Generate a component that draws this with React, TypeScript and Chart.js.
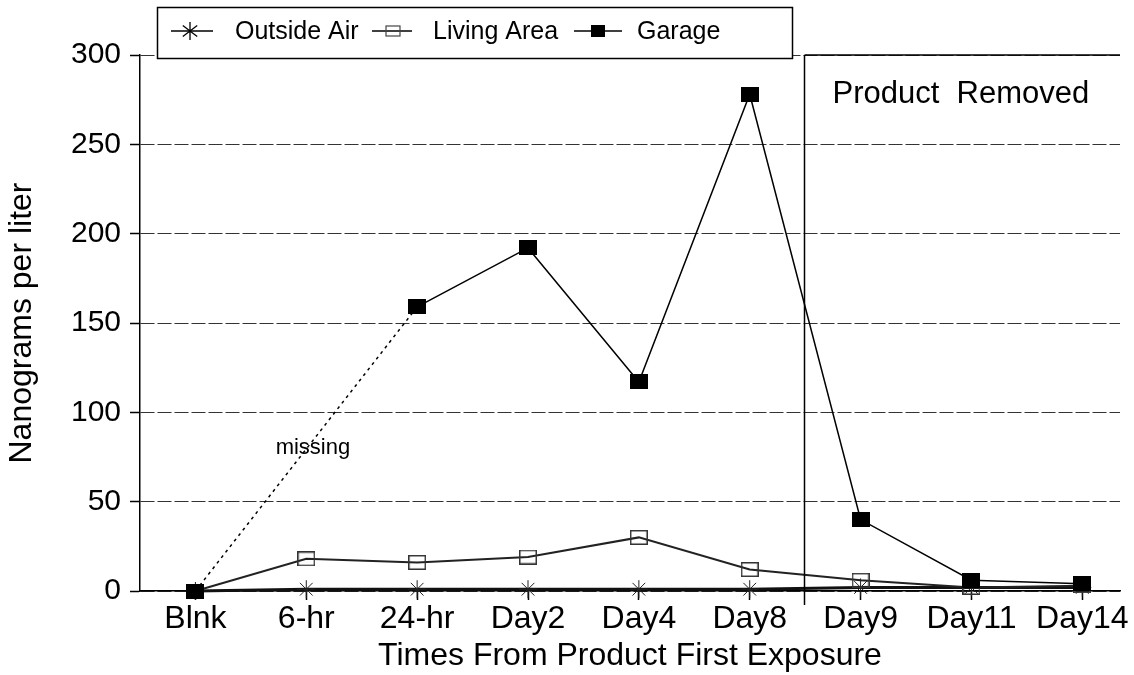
import React, { useEffect, useRef } from 'react';
import { Chart, registerables } from 'chart.js';

Chart.register(...registerables);

// ---- data ----
const categories = ['Blnk', '6-hr', '24-hr', 'Day2', 'Day4', 'Day8', 'Day9', 'Day11', 'Day14'];
const outsideAir = [0, 1, 1, 1, 1, 1, 2, 2, 2];
const livingArea = [0, 18, 16, 19, 30, 12, 6, 2, 3];
const garage = [0, null, 159, 192, 117, 278, 40, 6, 4];
const yTicks = [0, 50, 100, 150, 200, 250, 300];
const seriesLabels = ['Outside Air', 'Living Area', 'Garage'];
const productRemovedAfter = 5.49; // boundary between Day8 and Day9
const missingNoteAt = { x: 1.06, y: 80 };

const FONT = '"Liberation Sans", Arial, Helvetica, sans-serif';

function makeRect(w: number, h: number, fill: string | null, stroke: string, lw: number) {
  const c = document.createElement('canvas');
  c.width = w;
  c.height = h;
  const g = c.getContext('2d')!;
  if (fill) {
    g.fillStyle = fill;
    g.fillRect(0, 0, w, h);
  }
  g.strokeStyle = stroke;
  g.lineWidth = lw;
  g.strokeRect(lw / 2, lw / 2, w - lw, h - lw);
  return c;
}

export default function App() {
  const ref = useRef<HTMLCanvasElement>(null);

  useEffect(() => {
    document.body.style.margin = '0';
    const canvas = ref.current!;
    const garageImg = makeRect(18, 15, '#000', '#000', 1);
    const livingImg = makeRect(18, 15, null, '#333', 1.5);

    const overlay = {
      id: 'overlay',
      afterDraw(chart: any) {
        const { ctx, chartArea, scales } = chart;
        const xs = scales.x;
        const ys = scales.y;
        ctx.save();
        ctx.setLineDash([]);
        // product removed boundary
        const vx = Math.round(xs.getPixelForValue(productRemovedAfter)) + 0.5;
        ctx.strokeStyle = '#000';
        ctx.lineWidth = 1.5;
        ctx.beginPath();
        ctx.moveTo(vx, chartArea.top);
        ctx.lineTo(vx, chartArea.bottom + 14);
        ctx.moveTo(vx, chartArea.top);
        ctx.lineTo(chartArea.right, chartArea.top);
        ctx.stroke();
        ctx.fillStyle = '#000';
        ctx.font = `31px ${FONT}`;
        ctx.textAlign = 'left';
        ctx.textBaseline = 'alphabetic';
        ctx.fillText('Product  Removed', vx + 28, chartArea.top + 48);

        // missing note
        ctx.font = `22px ${FONT}`;
        ctx.textAlign = 'center';
        ctx.textBaseline = 'middle';
        ctx.fillText('missing', xs.getPixelForValue(missingNoteAt.x), ys.getPixelForValue(missingNoteAt.y));

        // legend
        const bx = 157, by = 7, bw = 635, bh = 51;
        ctx.fillStyle = '#fff';
        ctx.fillRect(bx, by, bw, bh);
        ctx.strokeStyle = '#000';
        ctx.lineWidth = 1.5;
        ctx.strokeRect(bx + 0.5, by + 0.5, bw, bh);
        const cy = 31;
        const items = [
          { l0: 171, l1: 213, m: 190, t: 235, kind: 'star' },
          { l0: 372, l1: 412, m: 393, t: 433, kind: 'open' },
          { l0: 574, l1: 622, m: 598, t: 637, kind: 'filled' },
        ];
        items.forEach((it, i) => {
          ctx.strokeStyle = '#000';
          ctx.lineWidth = 1.5;
          ctx.beginPath();
          ctx.moveTo(it.l0, cy);
          ctx.lineTo(it.l1, cy);
          ctx.stroke();
          if (it.kind === 'star') {
            const r = 9;
            ctx.lineWidth = 1.3;
            ctx.beginPath();
            ctx.moveTo(it.m, cy - r); ctx.lineTo(it.m, cy + r);
            ctx.moveTo(it.m - r * 0.8, cy - r * 0.6); ctx.lineTo(it.m + r * 0.8, cy + r * 0.6);
            ctx.moveTo(it.m - r * 0.8, cy + r * 0.6); ctx.lineTo(it.m + r * 0.8, cy - r * 0.6);
            ctx.stroke();
          } else if (it.kind === 'open') {
            ctx.lineWidth = 1.2;
            ctx.strokeStyle = '#444';
            ctx.strokeRect(it.m - 7, cy - 5, 14, 10);
          } else {
            ctx.fillStyle = '#000';
            ctx.fillRect(it.m - 7, cy - 6, 14, 12);
          }
          ctx.fillStyle = '#000';
          ctx.font = `25px ${FONT}`;
          ctx.textAlign = 'left';
          ctx.textBaseline = 'middle';
          ctx.fillText(seriesLabels[i], it.t, cy + 1);
        });
        ctx.restore();
      },
    };

    const toXY = (arr: (number | null)[]) => arr.map((v, i) => ({ x: i, y: v }));

    const chart = new Chart(canvas, {
      type: 'line',
      data: {
        datasets: [
          {
            label: seriesLabels[0],
            data: toXY(outsideAir) as any,
            borderColor: '#111',
            borderWidth: 3,
            pointStyle: 'star',
            pointRadius: 9,
            pointBorderWidth: 1,
            pointBorderColor: '#222',
            pointBackgroundColor: 'rgba(0,0,0,0)',
            tension: 0,
            clip: false,
            order: 2,
          },
          {
            label: seriesLabels[1],
            data: toXY(livingArea) as any,
            borderColor: '#222',
            borderWidth: 2,
            pointStyle: livingImg as any,
            pointRadius: 9,
            tension: 0,
            clip: false,
            order: 1,
          },
          {
            label: seriesLabels[2],
            data: toXY(garage) as any,
            borderColor: '#000',
            borderWidth: 1.5,
            pointStyle: garageImg as any,
            pointRadius: 9,
            spanGaps: true,
            segment: {
              borderDash: (c: any) => (c.p0.skip || c.p1.skip ? [3, 4] : undefined),
            },
            tension: 0,
            clip: false,
            order: 0,
          },
        ],
      },
      options: {
        responsive: false,
        animation: false,
        layout: { padding: { top: 55, right: 14, left: 0, bottom: 0 } },
        plugins: { legend: { display: false }, tooltip: { enabled: false } },
        scales: {
          x: {
            type: 'linear',
            min: -0.5,
            max: 8.34,
            afterFit: (s: any) => { s.height = 84; },
            afterBuildTicks: (s: any) => { s.ticks = categories.map((_, i) => ({ value: i })); },
            ticks: {
              autoSkip: false,
              maxRotation: 0,
              color: '#000',
              font: { family: FONT, size: 32 },
              padding: 0,
              callback: (v: any) => categories[v] ?? '',
            },
            grid: { display: true, drawOnChartArea: false, drawTicks: true, tickLength: 9, tickColor: '#000', tickWidth: 1.5 },
            border: { display: true, color: '#000', width: 1.5 },
            title: {
              display: true,
              text: 'Times From Product First Exposure',
              color: '#000',
              font: { family: FONT, size: 32, lineHeight: 1.2 },
              padding: { top: 0, bottom: 0 },
            },
          },
          y: {
            min: 0,
            max: 300,
            afterFit: (s: any) => { s.width = 140; },
            afterBuildTicks: (s: any) => { s.ticks = yTicks.map((v) => ({ value: v })); },
            ticks: { color: '#000', font: { family: FONT, size: 30 }, padding: 9 },
            grid: { color: '#333', lineWidth: 1, tickLength: 10, tickColor: '#000', tickWidth: 1.5, tickBorderDash: [] },
            border: { display: true, color: '#000', width: 1.5, dash: [14, 3] },
            title: {
              display: true,
              text: 'Nanograms per liter',
              color: '#000',
              font: { family: FONT, size: 32, lineHeight: 1.2 },
              padding: { top: 3, bottom: 0 },
            },
          },
        },
      },
      plugins: [overlay],
    } as any);

    return () => chart.destroy();
  }, []);

  return <canvas ref={ref} width={1134} height={675} style={{ display: 'block' }} />;
}
